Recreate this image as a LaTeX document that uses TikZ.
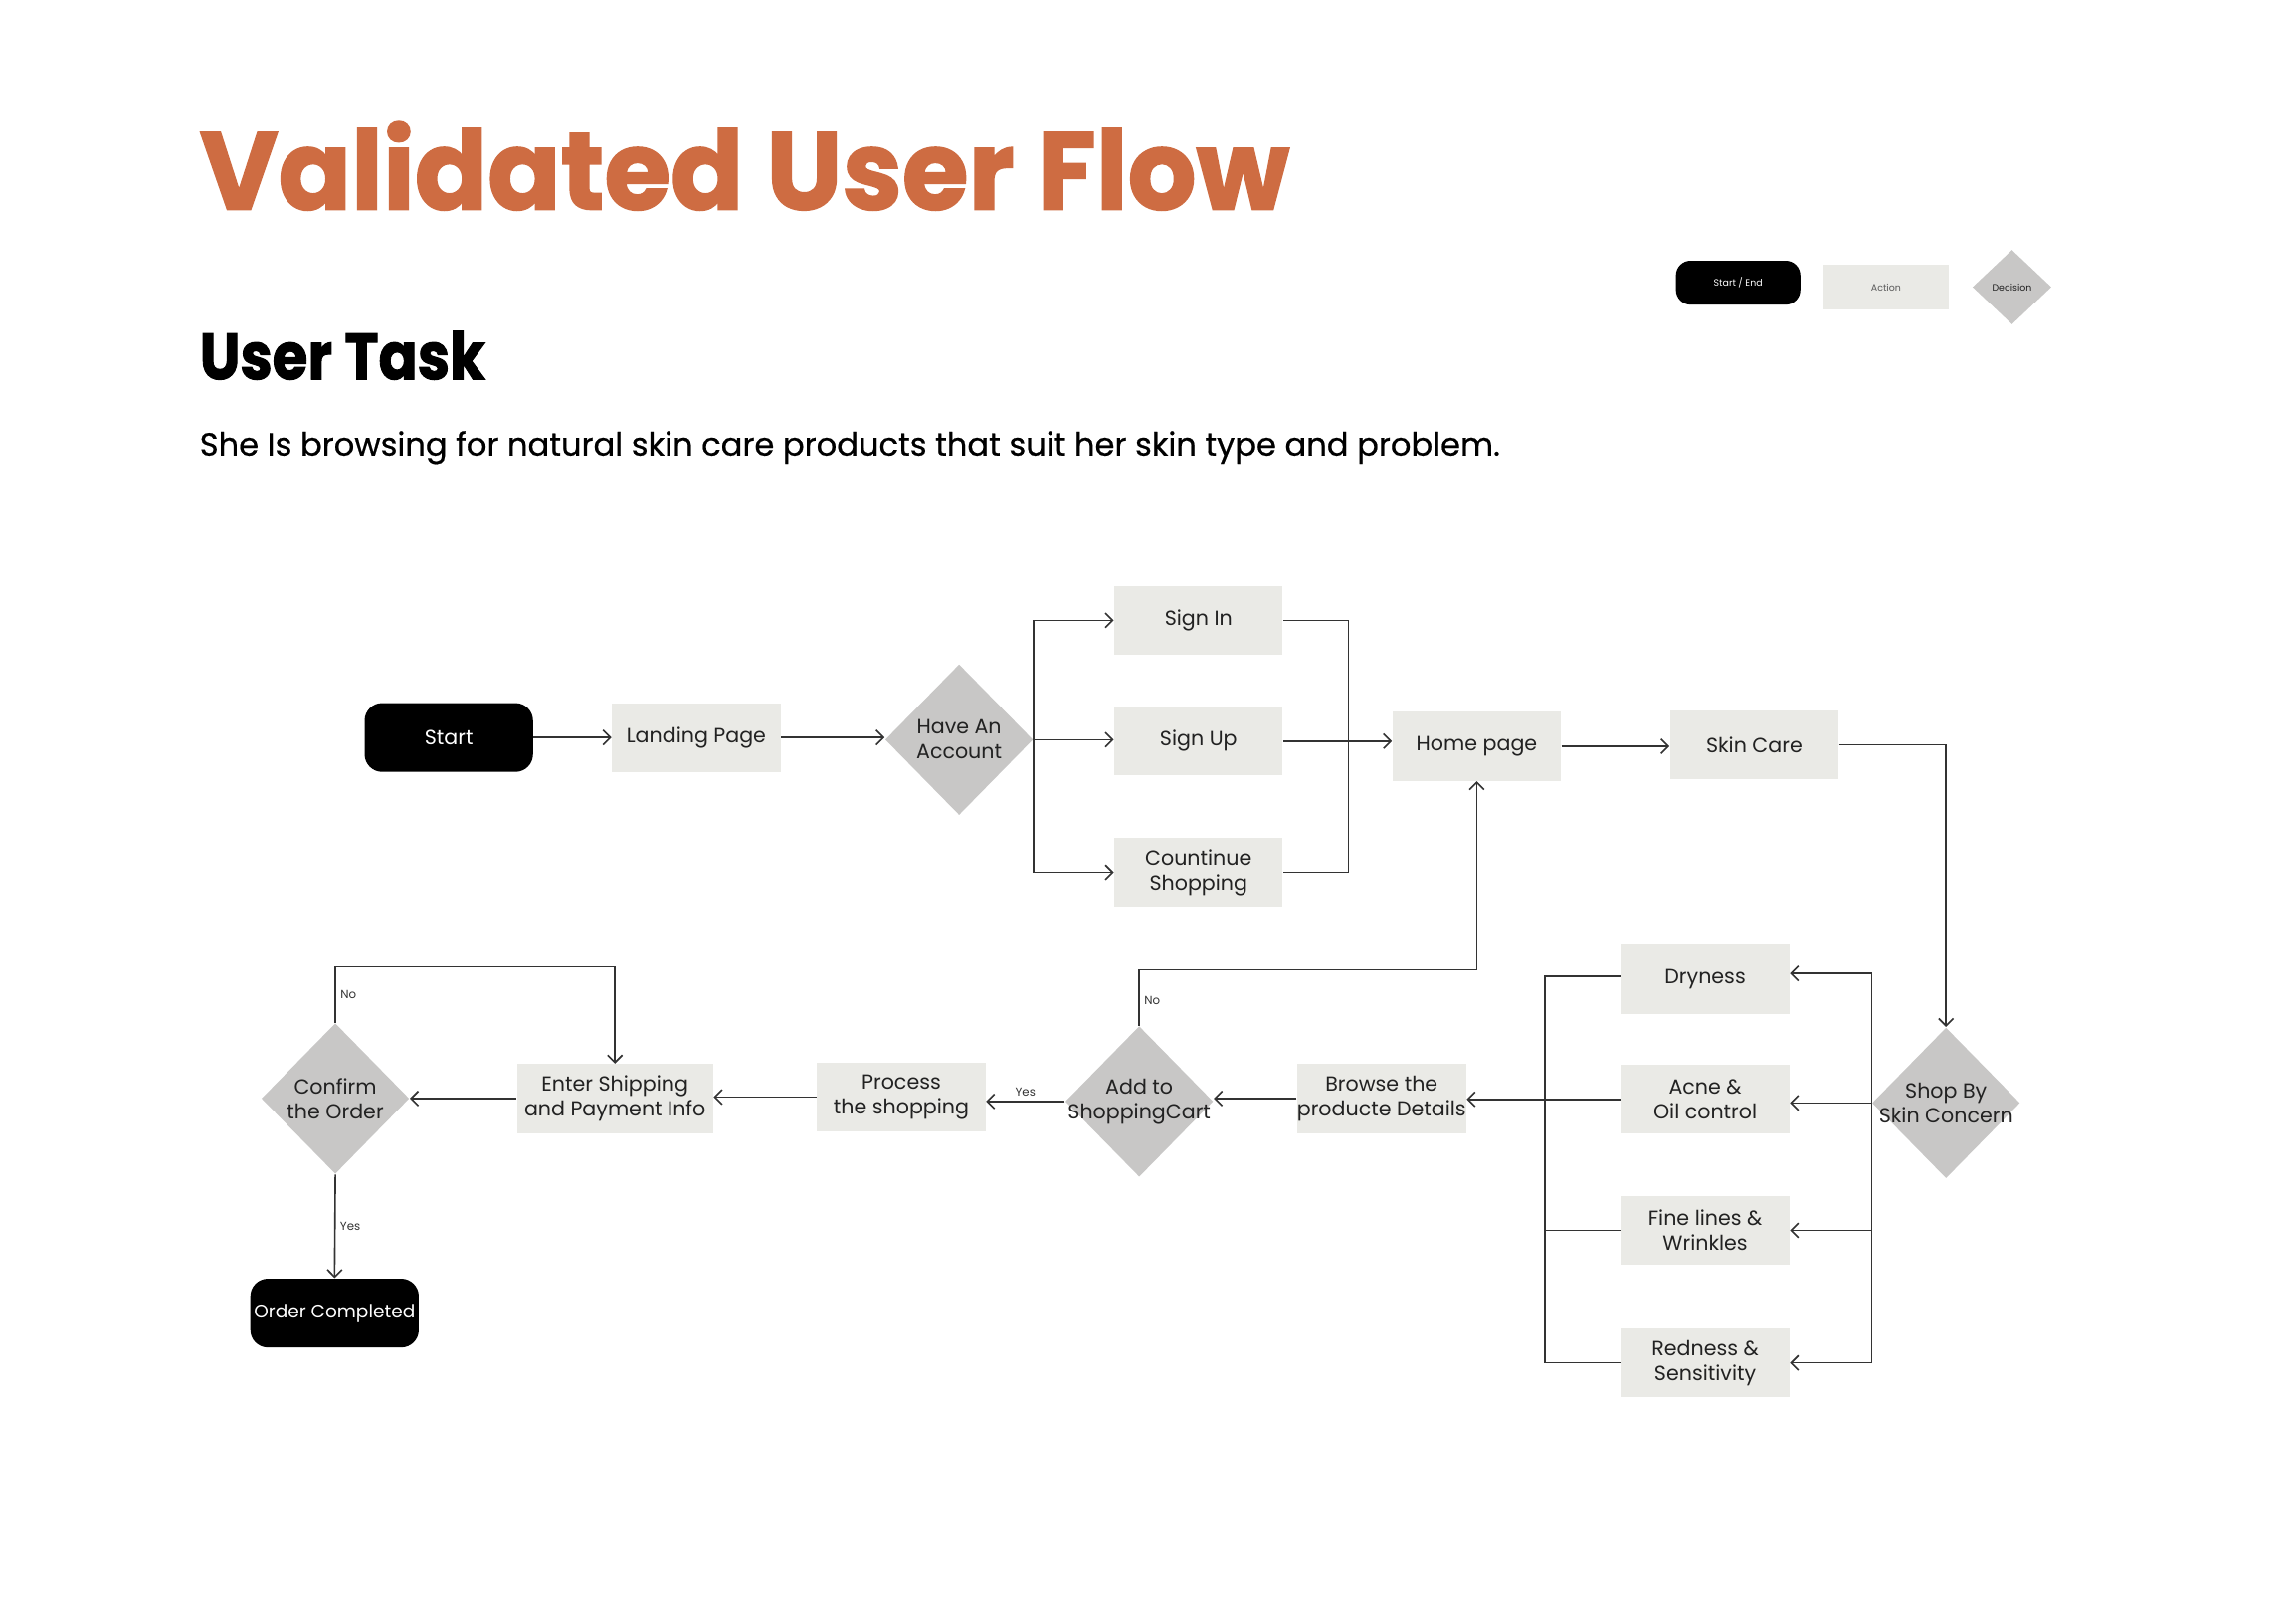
\documentclass[tikz,border=0pt]{standalone}
\usepackage{fontspec}
\setmainfont{Poppins}
\newfontfamily\heavyfont{Poppins}[BoldFeatures={FakeBold=1.6}]
\newfontfamily\medfont{Poppins}[FakeBold=0.6]
\usetikzlibrary{shapes.geometric,arrows.meta,calc}
\definecolor{orng}{RGB}{206,108,66}
\definecolor{actfill}{RGB}{234,234,230}
\definecolor{decfill}{RGB}{200,199,198}
\definecolor{ink}{RGB}{34,34,34}
\definecolor{wirec}{RGB}{51,51,51}
\begin{document}
\begin{tikzpicture}[x=0.5pt,y=-0.5pt,
  nodefont/.style={font=\fontsize{7}{8.5}\selectfont},
  act/.style={fill=actfill, minimum width=57.5pt, minimum height=23.5pt, inner sep=0pt, align=center, nodefont, text=ink},
  term/.style={fill=black, rounded corners=6pt, minimum width=57.5pt, minimum height=23.5pt, inner sep=0pt, text=white, nodefont},
  dec/.style={diamond, fill=decfill, minimum width=50.5pt, minimum height=51.5pt, inner sep=0pt,
     label={[align=center, nodefont, text=ink]center:#1}},
  wire/.style={draw=wirec, line width=0.55pt},
  arr/.style={wire, -{Straight Barb[length=2.5pt,width=5pt]}},
  lbl/.style={font=\fontsize{4}{4}\selectfont, text=wirec, inner sep=1.5pt},
  lgfont/.style={font=\fontsize{3.2}{3.5}\selectfont}
]
\fill[white] (0,0) rectangle (1568,1103);
\useasboundingbox (0,0) rectangle (1568,1103);

% headings
\node[anchor=base west, inner sep=0pt, text=orng] (title) at (136,143)
  {\resizebox{372pt}{30pt}{\heavyfont\bfseries Validated User Flow}};
\node[anchor=base west, inner sep=0pt, text=black] (task) at (136,259)
  {\resizebox{97.5pt}{16.5pt}{\heavyfont\bfseries User Task}};
\node[anchor=base west, inner sep=0pt, text=black] (desc) at (136,311)
  {\resizebox{444pt}{!}{\medfont\fontsize{10}{12}\selectfont She Is browsing for natural skin care products that suit her skin type and problem.}};

% legend
\node[term, minimum width=42.5pt, minimum height=15pt, rounded corners=5pt, lgfont] (lgterm) at (1187,193) {Start / End};
\node[act, minimum width=43pt, minimum height=15pt, lgfont, text=black!65] (lgact) at (1288,196) {Action};
\node[diamond, fill=decfill, minimum width=27pt, minimum height=25.5pt, inner sep=0pt,
  label={[lgfont, text=ink]center:Decision}] (lgdec) at (1374,196) {};

% main nodes
\node[term] (start) at (306.5,503.5) {Start};
\node[act] (land) at (475.5,503.5) {Landing Page};
\node[dec={Have An\\Account}] (acct) at (655,505) {};
\node[act] (signin) at (818.5,423.5) {Sign In};
\node[act] (signup) at (818.5,506) {Sign Up};
\node[act] (cont) at (818.5,595.5) {Countinue\\Shopping};
\node[act] (home) at (1008.5,509.5) {Home page};
\node[act] (skin) at (1198,508.5) {Skin Care};
\node[dec={Shop By\\Skin Concern}] (shop) at (1329,753) {};
\node[act] (dry) at (1164.5,668.5) {Dryness};
\node[act] (acne) at (1164.5,750.5) {Acne \&\\Oil control};
\node[act] (fine) at (1164.5,840) {Fine lines \&\\Wrinkles};
\node[act] (red) at (1164.5,930.5) {Redness \&\\Sensitivity};
\node[act] (browse) at (943.5,750) {Browse the\\producte Details};
\node[dec={Add to\\ShoppingCart}] (cart) at (778,752) {};
\node[act] (proc) at (615.5,749) {Process\\the shopping};
\node[act, minimum width=67pt] (enter) at (420,750) {Enter Shipping\\and Payment Info};
\node[dec={Confirm\\the Order}] (conf) at (229,750) {};
\node[term, font=\fontsize{6.3}{7.5}\selectfont] (done) at (228.5,896.5) {Order Completed};

% connectors
\draw[arr] (start.east) -- (start.east -| land.west);
\draw[arr] (land.east) -- (land.east -| acct.west);
\draw[arr] (acct.east) |- (signin.west);
\draw[arr] (acct.east) -- (acct.east -| signup.west);
\draw[arr] (acct.east) |- (cont.west);
\coordinate (mx) at (921,500);
\draw[wire] (signin.east) -- (signin.east -| mx) -- (cont.east -| mx) -- (cont.east);
\draw[arr] (signup.east) -- (signup.east -| home.west);
\draw[arr] (home.east) -- (home.east -| skin.west);
\draw[arr] (skin.east) -| (shop.north);
\draw[arr] (shop.west) |- ([yshift=2pt]dry.east);
\draw[arr] (shop.west) -- (shop.west -| acne.east);
\draw[arr] (shop.west) |- (fine.east);
\draw[arr] (shop.west) |- (red.east);
\coordinate (lx) at (1055,750.5);
\draw[wire] ([yshift=1pt]dry.west) -| (lx);
\draw[wire] (red.west) -| (lx);
\draw[wire] (fine.west) -- (fine.west -| lx);
\draw[arr] (acne.west) -- (acne.west -| browse.east);
\draw[arr] (browse.west) -- (browse.west -| cart.east);
\draw[arr] (cart.west) -- node[lbl, above] {Yes} (cart.west -| proc.east);
\draw[arr] (cart.north) -- node[lbl, right, pos=0.45] {No} ++(0,-38) -| (home.south);
\draw[arr] (proc.west) -- (proc.west -| enter.east);
\draw[arr] (enter.west) -- (enter.west -| conf.east);
\draw[arr] (conf.north) -- node[lbl, right] {No} ++(0,-38) -| (enter.north);
\draw[arr] (conf.south) -- node[lbl, right] {Yes} (done.north);
\end{tikzpicture}
\end{document}
